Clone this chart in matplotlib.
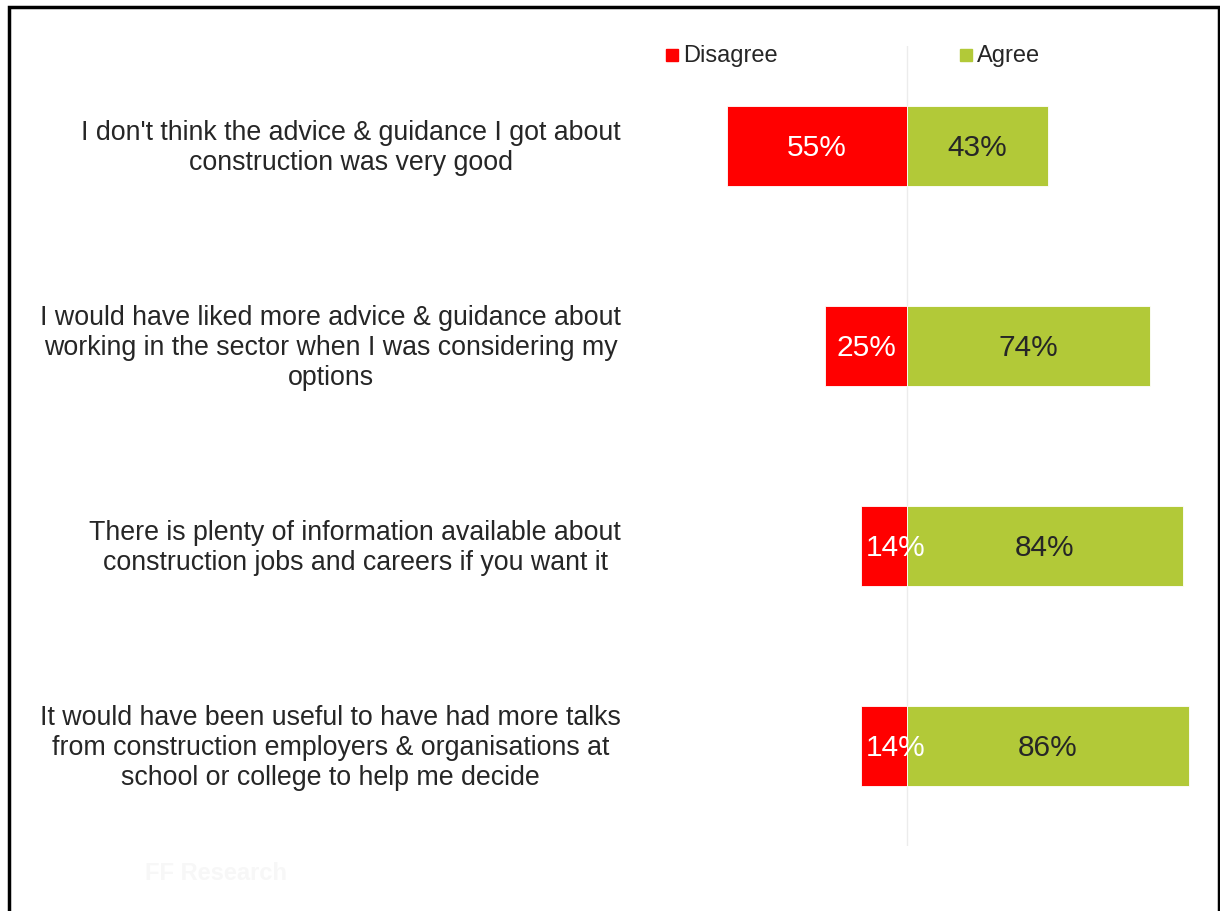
import matplotlib.pyplot as plt
from matplotlib.patches import Rectangle

plt.rcParams['font.family'] = ['Liberation Sans', 'DejaVu Sans']

statements = [
    "I don't think the advice & guidance I got about\nconstruction was very good",
    "I would have liked more advice & guidance about\nworking in the sector when I was considering my\noptions",
    "There is plenty of information available about\nconstruction jobs and careers if you want it",
    "It would have been useful to have had more talks\nfrom construction employers & organisations at\nschool or college to help me decide",
]
disagree = [55, 25, 14, 14]
agree = [43, 74, 84, 86]

red = '#FF0000'
green = '#B2C938'
dark = '#262626'

W, H = 1220, 911
fig = plt.figure(figsize=(W / 100, H / 100), dpi=100)

# axes box in pixel terms: zero line at x=907, 3.28 px per percent
x0_px, x1_px = 640, 1212
zero_px, scale = 907, 3.28
y_top, y_bot = 46, 846
ax = fig.add_axes([x0_px / W, 1 - y_bot / H, (x1_px - x0_px) / W, (y_bot - y_top) / H])
ax.set_xlim((x0_px - zero_px) / scale, (x1_px - zero_px) / scale)
ax.set_ylim(3.5, -0.5)
ax.axis('off')

ax.axvline(0, color='#ececec', lw=1, zorder=0)

ypos = range(len(statements))
ax.barh(ypos, [-d for d in disagree], height=0.4, color=red, edgecolor='white', lw=0.6, zorder=2)
ax.barh(ypos, agree, height=0.4, color=green, edgecolor='white', lw=0.6, zorder=2)

for i, (d, a) in enumerate(zip(disagree, agree)):
    yl = i + 0.012
    if d < 20:
        ax.text(-d + 1.5, yl, f'{d}%', ha='left', va='center', color='white', fontsize=21.5, zorder=3)
    else:
        ax.text(-d / 2, yl, f'{d}%', ha='center', va='center', color='white', fontsize=21.5, zorder=3)
    ax.text(a / 2, yl, f'{a}%', ha='center', va='center', color=dark, fontsize=21.5, zorder=3)

# statement labels, right edge at x=621
for i, s in enumerate(statements):
    yc = (y_top + (i + 0.5) * 200 + 2) / H
    fig.text(621 / W, 1 - yc, s, ha='right', va='center', multialignment='center',
             fontsize=19.3, color=dark, linespacing=1.2)

# legend
fig.patches.append(Rectangle((666 / W, 1 - 61 / H), 12 / W, 12 / H, color=red, transform=fig.transFigure))
fig.text(683 / W, 1 - 56 / H, 'Disagree', ha='left', va='center', fontsize=17, color=dark)
fig.patches.append(Rectangle((960 / W, 1 - 61 / H), 12 / W, 12 / H, color=green, transform=fig.transFigure))
fig.text(977 / W, 1 - 56 / H, 'Agree', ha='left', va='center', fontsize=17, color=dark)

# faint watermark
fig.text(145 / W, 1 - 873 / H, 'FF Research', ha='left', va='center', fontsize=17,
         color='#f7f7f7', fontweight='bold')

# black frame, open at the bottom
fig.patches.append(Rectangle((8.5 / W, -0.05), (1218.5 - 8.5) / W, 1.05 - 7.5 / H,
                             fill=False, ec='black', lw=2.5, transform=fig.transFigure))

fig.savefig('out.png', dpi=100)
